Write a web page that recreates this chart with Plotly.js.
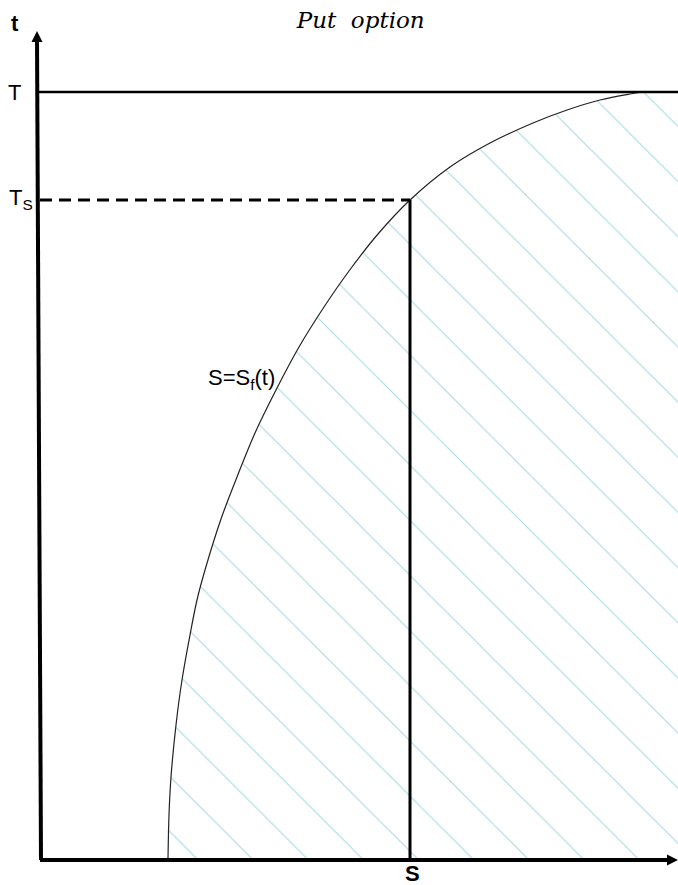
<!DOCTYPE html>
<html>
<head>
<meta charset="utf-8">
<script src="https://cdn.plot.ly/plotly-3.0.1.min.js"></script>
<style>html,body{margin:0;padding:0;background:#fff;}#chart{width:678px;height:885px;}</style>
</head>
<body>
<div id="chart"></div>
<script>
// Free boundary S = S_f(t) (S and t in drawing units)
const boundaryS = [128, 129, 131, 136, 142, 150, 157, 165, 181, 197, 215, 236, 259, 284, 309, 338, 370, 410, 450, 493, 527, 560, 590, 603];
const boundaryT = [0, 45, 83, 135, 180, 225, 260, 290, 341, 383, 427, 470, 513, 553, 589, 626, 660, 693, 717, 737, 750, 760, 766, 768];
const maturityT = 768;     // T
const switchT = 660;       // T_S
const strikeS = 370;       // S marked on the axis
const rightS = 638;        // right edge of the drawing
const tAxisS = [1, -3];    // t axis (slightly slanted in the drawing)
const tAxisT = [0, 822];
const tTip = {S: -3, t: 829};
const sAxisS = [0, 634];   // S axis
const sAxisT = [0, 0];
const sTip = {S: 638, t: 0};
const tickLabels = {t: 't', T: 'T', Ts: 'T<sub>S</sub>', S: 'S', curve: 'S=S<sub>f</sub>(t)'};

// hatched region: right of the boundary, below T
const regionS = boundaryS.concat([rightS, rightS]);
const regionT = boundaryT.concat([maturityT, 0]);

const line = (xs, ys, w, dash) => ({
  x: xs, y: ys, mode: 'lines', cliponaxis: false,
  line: {color: '#000', width: w, dash: dash || 'solid'},
  hoverinfo: 'skip', showlegend: false
});
const head = (tip, sym) => ({
  x: [tip.S], y: [tip.t], mode: 'markers', cliponaxis: false,
  marker: {symbol: sym, size: 11, color: '#000', line: {width: 0}},
  hoverinfo: 'skip', showlegend: false
});

const traces = [
  {x: regionS, y: regionT, mode: 'none', fill: 'toself', fillcolor: 'rgba(0,0,0,0)',
   fillpattern: {shape: '\\', fgcolor: '#a9dbe0', bgcolor: 'rgba(0,0,0,0)', size: 39, solidity: 0.03},
   hoverinfo: 'skip', showlegend: false},
  {x: boundaryS, y: boundaryT, mode: 'lines', line: {color: '#222', width: 1.2, shape: 'spline'},
   hoverinfo: 'skip', showlegend: false},
  line([-3, rightS], [maturityT, maturityT], 2.6),
  line([0, strikeS], [switchT, switchT], 3, '12px,7px'),
  line([strikeS, strikeS], [0, switchT], 3),
  line(tAxisS, tAxisT, 4),
  line(sAxisS, sAxisT, 4),
  head(tTip, 'arrow-up'),
  head(sTip, 'arrow-right')
];

const lab = {family: 'Liberation Sans, Arial, sans-serif', size: 22, color: '#000'};
const annotations = [
  {x: -25, y: 837, text: '<b>' + tickLabels.t + '</b>', showarrow: false, font: lab},
  {x: -26, y: maturityT, text: tickLabels.T, showarrow: false, font: lab},
  {x: -5, y: switchT + 1, text: tickLabels.Ts, xanchor: 'right', showarrow: false, font: lab},
  {x: strikeS + 2, y: -13, text: '<b>' + tickLabels.S + '</b>', showarrow: false, font: lab},
  {x: 201, y: 481, text: tickLabels.curve, showarrow: false, font: lab}
];

const layout = {
  width: 678, height: 885,
  margin: {l: 0, r: 0, t: 0, b: 0},
  paper_bgcolor: '#fff', plot_bgcolor: '#fff',
  title: {text: 'Put  option', x: 0.532, xanchor: 'center', y: 0.977, yanchor: 'middle', yref: 'container',
          font: {family: 'DejaVu Serif, serif', size: 23, style: 'italic', color: '#000'}},
  xaxis: {range: [-40, 638], visible: false, showgrid: false, zeroline: false, fixedrange: true},
  yaxis: {range: [-25, 860], visible: false, showgrid: false, zeroline: false, fixedrange: true},
  annotations: annotations,
  showlegend: false
};

Plotly.newPlot('chart', traces, layout, {staticPlot: true, displayModeBar: false});
</script>
</body>
</html>
